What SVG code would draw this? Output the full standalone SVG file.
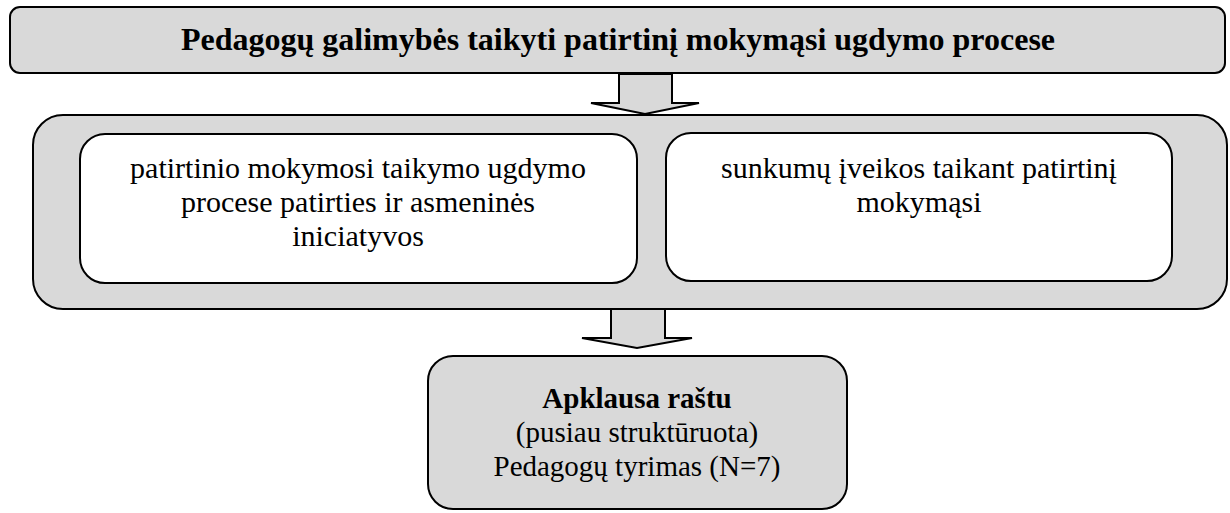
<svg xmlns="http://www.w3.org/2000/svg" width="1230" height="513" viewBox="0 0 1230 513">
  <style>
    .box { fill: #d9d9d9; stroke: #000; stroke-width: 2; }
    .inner { fill: #fff; stroke: #000; stroke-width: 2; }
    .arrow { fill: #d9d9d9; stroke: #000; stroke-width: 2; stroke-linejoin: miter; }
    .label { fill: #000; text-anchor: middle; }
  </style>

  <rect width="1230" height="513" fill="#fff"/>

  <!-- connectors: block arrows between the levels -->
  <g id="connectors">
    <polygon class="arrow" points="619,74 672,74 672,103 699,103 645,114 591,103 619,103"/>
    <polygon class="arrow" points="611,309 665,309 665,338 692,338 637,348 582,338 611,338"/>
  </g>

  <g id="node-title">
    <rect class="box" x="10" y="7" width="1215" height="66" rx="10"/>
    <text class="label" x="618" y="50" font-family="'Liberation Serif', serif" font-size="32" font-weight="bold">Pedagogų galimybės taikyti patirtinį mokymąsi ugdymo procese</text>
  </g>

  <g id="node-aspects">
    <rect class="box" x="33" y="115" width="1194" height="194" rx="30"/>
  </g>

  <g id="node-experience">
    <rect class="inner" x="80" y="134" width="557" height="149" rx="25"/>
    <text class="label" x="358" y="178" font-family="'Liberation Serif', serif" font-size="30">patirtinio mokymosi taikymo ugdymo</text>
    <text class="label" x="358" y="212" font-family="'Liberation Serif', serif" font-size="30">procese patirties ir asmeninės</text>
    <text class="label" x="358" y="246" font-family="'Liberation Serif', serif" font-size="30">iniciatyvos</text>
  </g>

  <g id="node-difficulties">
    <rect class="inner" x="666" y="133" width="506" height="148" rx="25"/>
    <text class="label" x="919" y="178" font-family="'Liberation Serif', serif" font-size="30">sunkumų įveikos taikant patirtinį</text>
    <text class="label" x="919" y="212" font-family="'Liberation Serif', serif" font-size="30">mokymąsi</text>
  </g>

  <g id="node-survey">
    <rect class="box" x="428" y="356" width="419" height="153" rx="25"/>
    <text class="label" x="637" y="408" font-family="'Liberation Serif', serif" font-size="29" font-weight="bold">Apklausa raštu</text>
    <text class="label" x="637" y="442" font-family="'Liberation Serif', serif" font-size="29">(pusiau struktūruota)</text>
    <text class="label" x="637" y="476" font-family="'Liberation Serif', serif" font-size="29">Pedagogų tyrimas (N=7)</text>
  </g>
</svg>
